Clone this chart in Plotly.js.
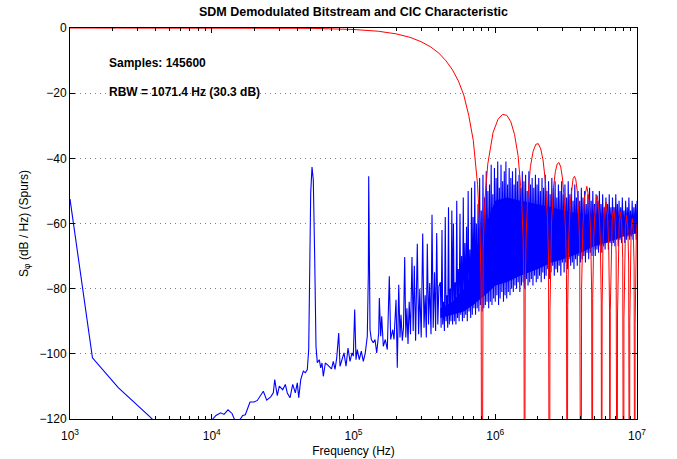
<!DOCTYPE html>
<html>
<head>
<meta charset="utf-8">
<script src="https://cdn.plot.ly/plotly-3.0.1.min.js"></script>
<style>html,body{margin:0;padding:0;background:#fff;}#chart{width:677px;height:459px;}</style>
</head>
<body>
<div id="chart"></div>
<script>
// ---------- Blue: SDM demodulated bitstream spectrum (frequency in kHz, level in dB) ----------
const blueLowKHz = [1.00,1.44,2.19,2.95,3.70,4.40,5.50,7.00,8.50,9.80,10.16,10.71,11.56,12.20,13.02,13.90,14.52,15.65,16.53,17.25,18.62,19.87,20.96,21.90,23.11,24.42,26.06,27.19,27.81,29.00,29.96,31.66,33.03,34.12,35.65,37.25,38.86,40.14,41.07,42.44,44.24,45.71,47.22,48.31,49.33,49.90,50.96,52.05,53.26,54.37,55.54,57.38,58.70,59.95,61.24,63.26,65.35,67.51,70.0,72.03,74.05,76.12,78.64,80.32,82.98,85.72,88.54,91.47,94.48,97.60,99.68,101.97,104.14,106.37,109.87,113.5,117.3,121.1,125.1,127.3,128.0,128.8,130.8,133.6,137.9,141.8,145.8,150.6,152.1,155.6,158.1,162.3,167.6,173.2,178.9,183.0,189.1,193.1,199.5,203.7,208.5];
const blueLowDb = [-52.5,-101.2,-110.4,-115.6,-119.5,-123,-126,-127,-124,-122,-120.0,-118.9,-118.1,-118.6,-117.2,-118.3,-120.3,-120.5,-118.9,-118.7,-114.8,-114.8,-114.3,-113.1,-111.5,-114.2,-113.2,-112.0,-107.9,-112.8,-109.9,-111.0,-109.4,-112.0,-113.5,-109.4,-112.0,-108.9,-113.5,-107.9,-105.3,-105.8,-104.8,-98.7,-71.1,-50.6,-42.7,-46.6,-71.0,-97.7,-102.7,-101.8,-104.3,-102.8,-106.9,-102.8,-103.3,-103.8,-104.6,-102.3,-104.8,-101.3,-93.6,-103.8,-101.8,-99.7,-103.8,-98.2,-102.3,-99.7,-100.7,-86.4,-101.8,-98.7,-101.8,-99.2,-102.3,-99.7,-94.6,-75,-45.5,-75,-92.6,-95.6,-96.6,-95.6,-99.7,-93.6,-82.9,-94.6,-88.5,-97.7,-95.6,-98.7,-76.2,-95.6,-92.6,-95.6,-83.4,-104.3,-78.8];

const blueMidKHz = [212.8,216.3,221.0,225.3,229.7,233.9,238.1,242.4,247.1,252.4,258.6,263.7,268.5,274.2,281.9,287.9,293.6,300.4,307.8,314.4,320.5,326.3,331.6,338.2,344.8,352.2,358.0,365.0,372.8,379.6,386.4,393.4,400.5];
const blueMidDb = [-95,-88,-96,-92,-70.3,-95,-86,-97,-84,-94,-70.3,-93,-73,-96,-66.2,-94,-80,-95,-63.1,-92,-82,-95,-66.2,-91,-78.3,-94,-57.3,-92,-75,-93,-62.9,-91,-79.3];

const blueHiKHz = [410,415,421,426,432,438,444,450,456,462,468,474,481,487,494,500,
 507,514,521,528,535,542,549,556,564,571,579,587,595,603,611,619,627,635,644,653,662,671,680,689,698,
 707,717,726,736,746,756,766,776,786,797,808,819,830,841,852,864,875,887,899,
 911,923,936,948,961,974,987,1000,1014,1027,1041,1055,1069,1083,1098,1113,1128,1143,1158,1173,1189,1205,1221,1237,1254,1271,1288,1305,
 1323,1341,1359,1377,1395,1414,1433,1452,1472,1491,1511,1531,1552,1573,1594,1615,1637,1659,1681,1704,1727,1750,1773,1797,1821,1845,1870,1895,1921,1947,1973,1999,2026,
 2053,2081,2109,2137,2165,2194,2224,2254,2284,2314,2345,2377,2409,2441,2474,2507,2541,2575,2609,2644,2680,2716,2752,2789,2826,2864,2902,2941,2981,3021,
 3061,3102,3144,3186,3229,3272,3316,3360,3405,3451,3497,3544,3592,3640,3689,3738,3788,3839,3891,3943,3996,4049,4104,4159,4215,4271,4328,4386,4445,4505,
 4565,4626,4688,4751,4815,4879,4945,5011,5078,5146,5215,5285,5356,5428,5501,5574,5649,5725,5802,5879,5958,6038,6119,6201,6284,6368,6454,6540,
 6628,6716,6806,6898,6990,7084,7179,7275,7372,7471,7571,7673,7776,7880,7986,8093,8202,8312,8423,8536,8651,8766,8884,9003,9124,9246,9370,9496,9623,9752,9876,10000];
const blueHiDb = [-78,-92,-62,-91,-84,-93,-58,-90,-82,-92,-55,-91,-80,-90,-56,-91,
 -60,-90,-78,-91,-53,-89,-74,-90,-57,-88,-70,-90,-52,-89,-66,-88,-61,-90,-50,-87,-68,-89,-49,-88,-58,
 -86,-47,-88,-60,-86,-54,-87,-46,-85,-56,-87,-45,-86,-52,-85,-44,-84,-50,-86,
 -48,-84,-42,-85,-51,-83,-43,-84,-46,-82,-41,-85,-49,-83,-42,-81,-47,-84,-44,-82,-41,-83,-48,-81,-43,-82,-46,-80,
 -44,-81,-48,-79,-43,-80,-47,-78,-45,-81,-49,-79,-44,-78,-47,-80,-45,-77,-50,-79,-44,-78,-48,-77,-46,-79,-49,-76,-45,-78,-48,-77,-46,
 -76,-50,-78,-46,-75,-49,-77,-45,-76,-50,-74,-47,-77,-51,-75,-46,-73,-49,-76,-47,-74,-52,-75,-48,-73,-50,-76,-47,-72,-51,
 -75,-48,-72,-52,-74,-47,-71,-51,-73,-49,-72,-53,-74,-48,-71,-52,-73,-50,-70,-53,-72,-49,-71,-52,-70,-50,-72,-54,-69,-51,
 -71,-49,-69,-53,-70,-50,-68,-54,-70,-51,-68,-53,-69,-50,-67,-54,-69,-51,-67,-55,-68,-52,-66,-54,-68,-51,-66,-55,
 -67,-52,-66,-55,-67,-51,-65,-54,-67,-53,-65,-55,-66,-52,-64,-56,-66,-53,-65,-55,-64,-52,-65,-56,-64,-53,-65,-55,-63,-54,-65,-53];

// solid core of the dense noise floor (kHz, dB)
const bandKHz   = [410,500,600,700,800,900,1000,1200,1500,2000,2500,3000,4000,5000,6000,8000,10000];
const bandTopDb = [-86,-84,-80,-74,-66,-58,-53,-52,-53,-54,-55,-56,-57,-58,-58.5,-59,-59];
const bandBotDb = [-89,-88,-87,-85,-83,-81,-79,-78,-76,-74,-72,-71,-69,-67,-66,-64,-63];

// ---------- Red: CIC characteristic (kHz, dB) ----------
const cicKHz = [1,10,50,100,150,200,250,300,350,400,450,500,550,600,650,700,750,780,795,805,
 821.1,845.3,885.5,966,1046.5,1127,1207.5,1288,1368.5,1449,1529.5,1569.8,1593.9,1610,
 1626.1,1650.3,1690.5,1771,1851.5,1932,2012.5,2093,2173.5,2254,2334.5,2374.8,2398.9,2415,
 2431.1,2455.3,2495.5,2576,2656.5,2737,2817.5,2898,2978.5,3059,3139.5,3179.8,3203.9,3220,
 3244.2,3300.5,3381,3461.5,3542,3622.5,3703,3783.5,3864,3944.5,3998.9,4025,
 4065.3,4145.8,4266.5,4427.5,4588.5,4709.3,4789.8,4830,
 4870.3,4950.8,5071.5,5232.5,5393.5,5514.3,5594.8,5635,
 5675.3,5755.8,5876.5,6037.5,6198.5,6319.3,6399.8,6440,
 6480.3,6560.8,6681.5,6842.5,7003.5,7124.3,7204.8,7245,
 7285.3,7365.8,7486.5,7647.5,7808.5,7929.3,8009.8,8050,
 8090.3,8170.8,8291.5,8452.5,8613.5,8734.3,8814.8,8855,
 8895.3,8975.8,9096.5,9257.5,9418.5,9539.3,9619.8,9660,
 9700.3,9780.8,9901.5,10062.5];
const cicDb = [0,0,-0.1,-0.45,-1.0,-1.8,-2.85,-4.2,-5.8,-7.7,-10.1,-12.9,-16.3,-20.6,-26.8,-34.5,-48,-62,-78,-200,
 -68.2,-52.8,-41.8,-32.0,-28.0,-26.5,-26.8,-28.8,-32.7,-39.2,-51.3,-63.6,-79.7,-200,
 -79.9,-64.3,-52.9,-42.5,-37.8,-35.7,-35.5,-37.1,-40.5,-46.7,-58.5,-70.6,-86.6,-200,
 -86.7,-71.0,-59.5,-48.9,-44.0,-41.7,-41.3,-42.7,-46.0,-52.0,-63.6,-75.6,-91.6,-200,
 -85.1,-64.5,-53.7,-48.6,-46.2,-45.5,-46.6,-49.8,-55.7,-67.1,-88.0,-200,
 -80.0,-61.7,-51.9,-48.6,-52.7,-62.9,-81.6,-200,
 -83.0,-64.6,-54.8,-51.4,-55.5,-65.7,-84.2,-200,
 -85.0,-66.6,-56.8,-53.4,-57.5,-67.7,-86.2,-200,
 -86.7,-68.3,-58.5,-55.1,-59.2,-69.4,-87.9,-200,
 -88.1,-69.7,-59.9,-56.5,-60.6,-70.8,-89.3,-200,
 -89.1,-70.7,-60.9,-57.5,-61.6,-71.8,-90.3,-200,
 -90.1,-71.7,-61.9,-58.5,-62.6,-72.8,-91.3,-200,
 -91.0,-72.6,-62.8,-59.3];

const xTickVals = [1e3,1e4,1e5,1e6,1e7];
const xTickText = ['10<sup>3</sup>','10<sup>4</sup>','10<sup>5</sup>','10<sup>6</sup>','10<sup>7</sup>'];
const infoLines = ['Samples: 145600','RBW = 1071.4 Hz (30.3 dB)'];

const toHz = a => a.map(v => v * 1000);
const FONT = 'Liberation Sans, Arial, Helvetica, sans-serif';
const BLUE = '#0000ff', RED = '#ff0000';

const blueKHz = blueLowKHz.concat(blueMidKHz, blueHiKHz);
const blueDb = blueLowDb.concat(blueMidDb, blueHiDb);

const traces = [
  {x: toHz(bandKHz), y: bandBotDb, type:'scatter', mode:'lines', line:{color:BLUE, width:0}, hoverinfo:'skip'},
  {x: toHz(bandKHz), y: bandTopDb, type:'scatter', mode:'lines', line:{color:BLUE, width:0}, fill:'tonexty', fillcolor:BLUE, hoverinfo:'skip'},
  {x: toHz(blueKHz), y: blueDb, type:'scatter', mode:'lines', line:{color:BLUE, width:1.1}},
  {x: toHz(cicKHz), y: cicDb, type:'scatter', mode:'lines', line:{color:RED, width:1}}
];

const layout = {
  width:677, height:459,
  margin:{l:70, r:40, t:28, b:40},
  paper_bgcolor:'#ffffff', plot_bgcolor:'#ffffff',
  showlegend:false,
  font:{family:FONT, size:12, color:'#000'},
  title:{text:'<b>SDM Demodulated Bitstream and CIC Characteristic</b>', font:{family:FONT, size:12.5, color:'#000'},
         xref:'paper', x:0.5, xanchor:'center', yref:'container', y:1-12/459, yanchor:'middle'},
  xaxis:{type:'log', range:[3,7], tickmode:'array', tickvals:xTickVals, ticktext:xTickText, automargin:false,
         ticks:'inside', ticklen:5, tickcolor:'#000', showline:true, linecolor:'#000', linewidth:1, mirror:'ticks',
         ticklabelstandoff:6,
         showgrid:false, zeroline:false, tickfont:{family:FONT, size:12, color:'#000'},
         minor:{ticks:'inside', ticklen:3, tickcolor:'#000', dtick:'D1', showgrid:false},
         title:{text:'Frequency (Hz)', font:{family:FONT, size:12, color:'#000'}, standoff:4}},
  yaxis:{range:[-120,0], dtick:20, ticks:'inside', ticklen:5, tickcolor:'#000', automargin:false,
         showline:true, linecolor:'#000', linewidth:1, mirror:'ticks', zeroline:false,
         showgrid:true, gridcolor:'#808080', gridwidth:1, griddash:'1px,4px',
         tickfont:{family:FONT, size:12, color:'#000'},
         title:{text:'S<sub>φ</sub> (dB / Hz) (Spurs)', font:{family:FONT, size:12, color:'#000'}, standoff:8}},
  annotations:[
    {text:'<b>'+infoLines[0]+'</b>', xref:'paper', yref:'paper', x:0.066, y:0.910, xanchor:'left', yanchor:'middle', showarrow:false, font:{family:FONT, size:12, color:'#000'}},
    {text:'<b>'+infoLines[1]+'</b>', xref:'paper', yref:'paper', x:0.066, y:0.837, xanchor:'left', yanchor:'middle', showarrow:false, font:{family:FONT, size:12, color:'#000'}}
  ]
};

Plotly.newPlot('chart', traces, layout, {staticPlot:true, displayModeBar:false});
</script>
</body>
</html>
